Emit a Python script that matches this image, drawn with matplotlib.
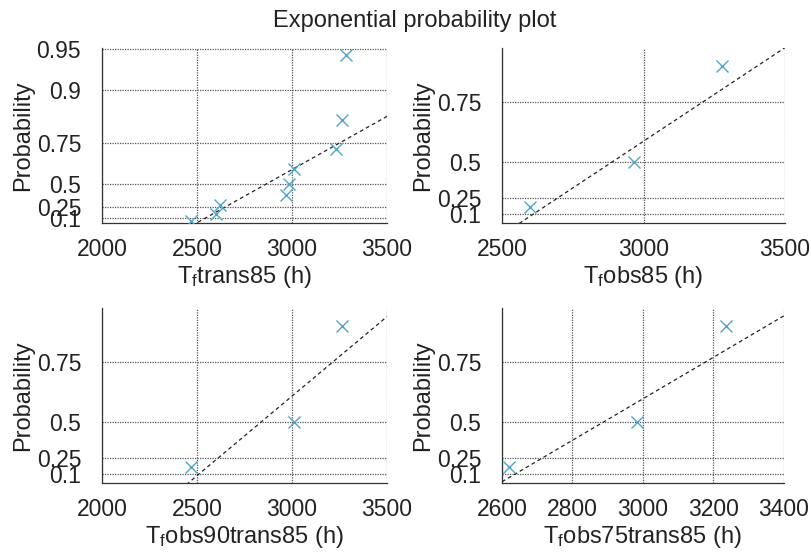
import numpy as np
import matplotlib
matplotlib.use("Agg")
import matplotlib.pyplot as plt

plt.rcParams['font.family'] = ['Liberation Sans', 'DejaVu Sans']
plt.rcParams['mathtext.fontset'] = 'custom'
plt.rcParams['mathtext.rm'] = 'Liberation Sans'
plt.rcParams['mathtext.it'] = 'Liberation Sans:italic'

title = "Exponential probability plot"

# data (failure times, h) for each panel
x_trans85 = [2468, 2600, 2621, 2970, 2986, 3009, 3234, 3264, 3282]
x_obs85 = [2599, 2966, 3279]
x_obs90trans85 = [2467, 3009, 3264]
x_obs75trans85 = [2619, 2984, 3236]

xlabels = [r"T$_{\mathrm{f}}$trans85 (h)", r"T$_{\mathrm{f}}$obs85 (h)",
           r"T$_{\mathrm{f}}$obs90trans85 (h)", r"T$_{\mathrm{f}}$obs75trans85 (h)"]

# reference line parameters (location, scale)
ref_loc = [2487, 2563, 2454, 2594]
ref_scale = [549, 467.5, 550, 421.6]

xticks = [[2000, 2500, 3000, 3500], [2500, 3000, 3500],
          [2000, 2500, 3000, 3500], [2600, 2800, 3000, 3200, 3400]]
xlims = [(2000, 3500), (2500, 3500), (2000, 3500), (2600, 3400)]
ylims = [(0.0197, 0.951), (0.0, 0.8647), (0.0, 0.8647), (0.0, 0.8647)]

prob_ticks = [0.1, 0.25, 0.5, 0.75, 0.9, 0.95]
prob_labels = ["0.1", "0.25", "0.5", "0.75", "0.9", "0.95"]

datasets = [x_trans85, x_obs85, x_obs90trans85, x_obs75trans85]


def fwd(p):
    p = np.asarray(p, dtype=float)
    return -np.log1p(-np.clip(p, -10, 1 - 1e-9))


def inv(q):
    return 1 - np.exp(-np.asarray(q, dtype=float))


W, H = 812, 560
fig = plt.figure(figsize=(W / 100, H / 100), dpi=100)

boxes = [(102, 48, 387, 223), (502, 48, 785, 223),
         (102, 308, 387, 483), (502, 308, 784, 483)]

marker_color = '#4fa6c8'
grid_color = '#555555'
text_color = '#222222'

for i, (l, t, r, b) in enumerate(boxes):
    ax = fig.add_axes([l / W, 1 - b / H, (r - l) / W, (b - t) / H])
    ax.set_yscale('function', functions=(fwd, inv))
    xs = np.sort(np.array(datasets[i], dtype=float))
    n = len(xs)
    pp = (np.arange(1, n + 1) - 0.5) / n
    xl = np.linspace(xlims[i][0], xlims[i][1], 200)
    pl = inv((xl - ref_loc[i]) / ref_scale[i])
    ax.plot(xl, pl, linestyle=(0, (3, 2.5)), color='#222222', lw=0.9, zorder=3)
    ax.plot(xs, pp, linestyle='none', marker='x', ms=8, mew=1.0,
            color=marker_color, zorder=4)
    ax.set_xlim(*xlims[i])
    ax.set_ylim(*ylims[i])
    ax.set_xticks(xticks[i])
    yt = [p for p in prob_ticks if ylims[i][0] <= p <= ylims[i][1] + 0.001]
    yl = [prob_labels[prob_ticks.index(p)] for p in yt]
    ax.set_yticks(yt)
    ax.set_yticklabels(yl)
    ax.yaxis.set_minor_locator(matplotlib.ticker.NullLocator())
    ax.grid(True, linestyle=(0, (1, 1)), color=grid_color, lw=0.9)
    ax.set_axisbelow(True)
    for s in ['top', 'right']:
        ax.spines[s].set_visible(False)
    for s in ['left', 'bottom']:
        ax.spines[s].set_color('#333333')
        ax.spines[s].set_linewidth(0.9)
    ax.tick_params(axis='both', length=0, labelsize=16.5, colors=text_color)
    ax.tick_params(axis='y', pad=15)
    ax.tick_params(axis='x', pad=11)
    ax.set_xlabel(xlabels[i], fontsize=17, color=text_color)
    ax.set_ylabel("Probability", fontsize=17, color=text_color)
    wpx, hpx = r - l, b - t
    ax.xaxis.set_label_coords(0.5, -54 / hpx)
    ax.xaxis.label.set_va('center')
    ax.yaxis.set_label_coords(-79 / wpx, 0.5)
    ax.yaxis.label.set_va('center')

fig.text(415 / W, 1 - 21 / H, title, ha='center', va='center', fontsize=17,
         color=text_color)

fig.savefig("out.png", dpi=100)
